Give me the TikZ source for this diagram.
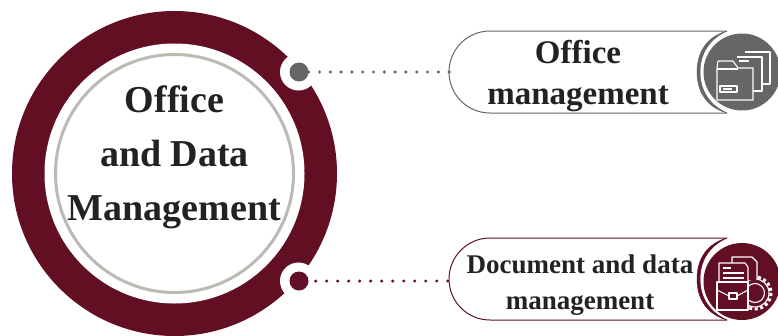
\documentclass[tikz,border=0pt]{standalone}
\usepackage{fontspec}
\setmainfont{Liberation Serif}
\usetikzlibrary{math}
\definecolor{wine}{HTML}{620F24}
\definecolor{slate}{HTML}{666666}
\definecolor{ringgrey}{HTML}{BDB9B3}
\definecolor{ink}{HTML}{222222}
\tikzset{
  hub/.style={circle, inner sep=0pt, minimum size=19pt},
  title/.style={align=center, font=\bfseries\fontsize{38}{54}\selectfont, text=ink},
  label/.style={align=center, text=ink},
  icon/.style={draw=white, line width=1.1pt, line join=round},
  link/.style={line width=3.4pt, line cap=round},
}
\begin{document}
\begin{tikzpicture}[x=1pt,y=-1pt]
      \useasboundingbox (0,0) rectangle (778,335);
      \tikzmath{\cx = 174.5; \cy = 173.5; \ya = 72; \yb = 281; \ix = 742;}
      % main ring
      \path [fill=wine] (\cx,\cy) circle (162.5);
      \path [fill=white] (\cx,\cy) circle (130);
      \path [draw=ringgrey, line width=3pt, fill=white] (\cx,\cy) circle (119);
      \node[title] (main) at (\cx,157) {Office\\and Data\\Management};
      % notches
      \path [fill=white] (298.5,\ya) circle (18.5);
      \path [fill=white] (298.5,\yb) circle (18.5);
      \node[hub, fill=slate] (hubA) at (299,\ya) {};
      \node[hub, fill=wine] (hubB) at (299,\yb) {};
      % top pill
      \draw[slate, line width=1pt, fill=white] (727,31) -- (490,31) arc (-90:-270:41) -- (727,113);
      \path [fill=slate, draw=slate, line width=0.5pt] (727,31) .. controls (706,37) and (697,53) .. (697,72) .. controls (697,91) and (706,107) .. (727,113) .. controls (709,105) and (700,90) .. (700,72) .. controls (700,54) and (709,39) .. (727,31);
      \node[label, font=\bfseries\fontsize{33}{41}\selectfont] (pillA) at (578,76.5) {Office\\management};
      \coordinate (pillAend) at (449.5,\ya);
      \draw[slate, link, dash pattern=on 0pt off 10.8pt] (hubA) -- (pillAend);
      % bottom pill
      \draw[wine, line width=1pt, fill=white] (727,238) -- (490,238) arc (-90:-270:41) -- (727,320);
      \path [fill=wine, draw=wine, line width=0.5pt] (727,238) .. controls (706,244) and (697,260) .. (697,279) .. controls (697,298) and (706,314) .. (727,320) .. controls (709,312) and (700,297) .. (700,279) .. controls (700,261) and (709,246) .. (727,238);
      \node[label, font=\bfseries\fontsize{27}{36}\selectfont] (pillB) at (580,285) {Document and data\\management};
      \coordinate (pillBend) at (449,\yb);
      \draw[wine, link, dash pattern=on 0pt off 11pt, dash phase=4pt] (hubB) -- (pillBend);
      % icon discs
      \path [fill=slate] (\ix,72) circle (38.5);
      \path [fill=wine] (\ix,281.5) circle (38.5);
      % folder icon
      \draw[icon] (745,52) -- (770,52) -- (770,84) -- (762,84);
      \draw[icon, fill=slate] (737,57) -- (762,57) -- (762,91) -- (753,91);
      \draw[icon, fill=slate] (718,61) -- (733,61) -- (738,68) -- (753,68) -- (753,100) -- (717,100) -- (717,68) -- (718,61);
      \draw[icon] (717,69) -- (738,69);
      \draw[icon] (720,86) rectangle (737,92);
      \draw[icon] (723,89) -- (732,89);
      \draw[icon] (739,61) -- (749,61);
      % briefcase icon
      \draw[icon, dash pattern=on 3pt off 2.6pt, line width=3pt] (755,293) circle (16);
      \path [draw=white, line width=1.1pt, fill=wine] (755,293) circle (14);
      \draw[icon] (755,293) circle (9.5);
      \draw[icon, fill=wine] (732,280) -- (732,257) -- (752,257) -- (757,262) -- (757,280);
      \draw[icon, fill=wine] (719,282) -- (719,263) -- (745,263) -- (748,267) -- (748,282);
      \draw[icon] (723,268) -- (731,268) (723,273) -- (744,273) (723,278) -- (744,278);
      \draw[icon, fill=wine] (717,282) rectangle (748,310);
      \draw[icon] (717,290) -- (729,296) (737,296) -- (748,290);
      \draw[icon, fill=wine] (729,293) rectangle (737,299);
\end{tikzpicture}
\end{document}
